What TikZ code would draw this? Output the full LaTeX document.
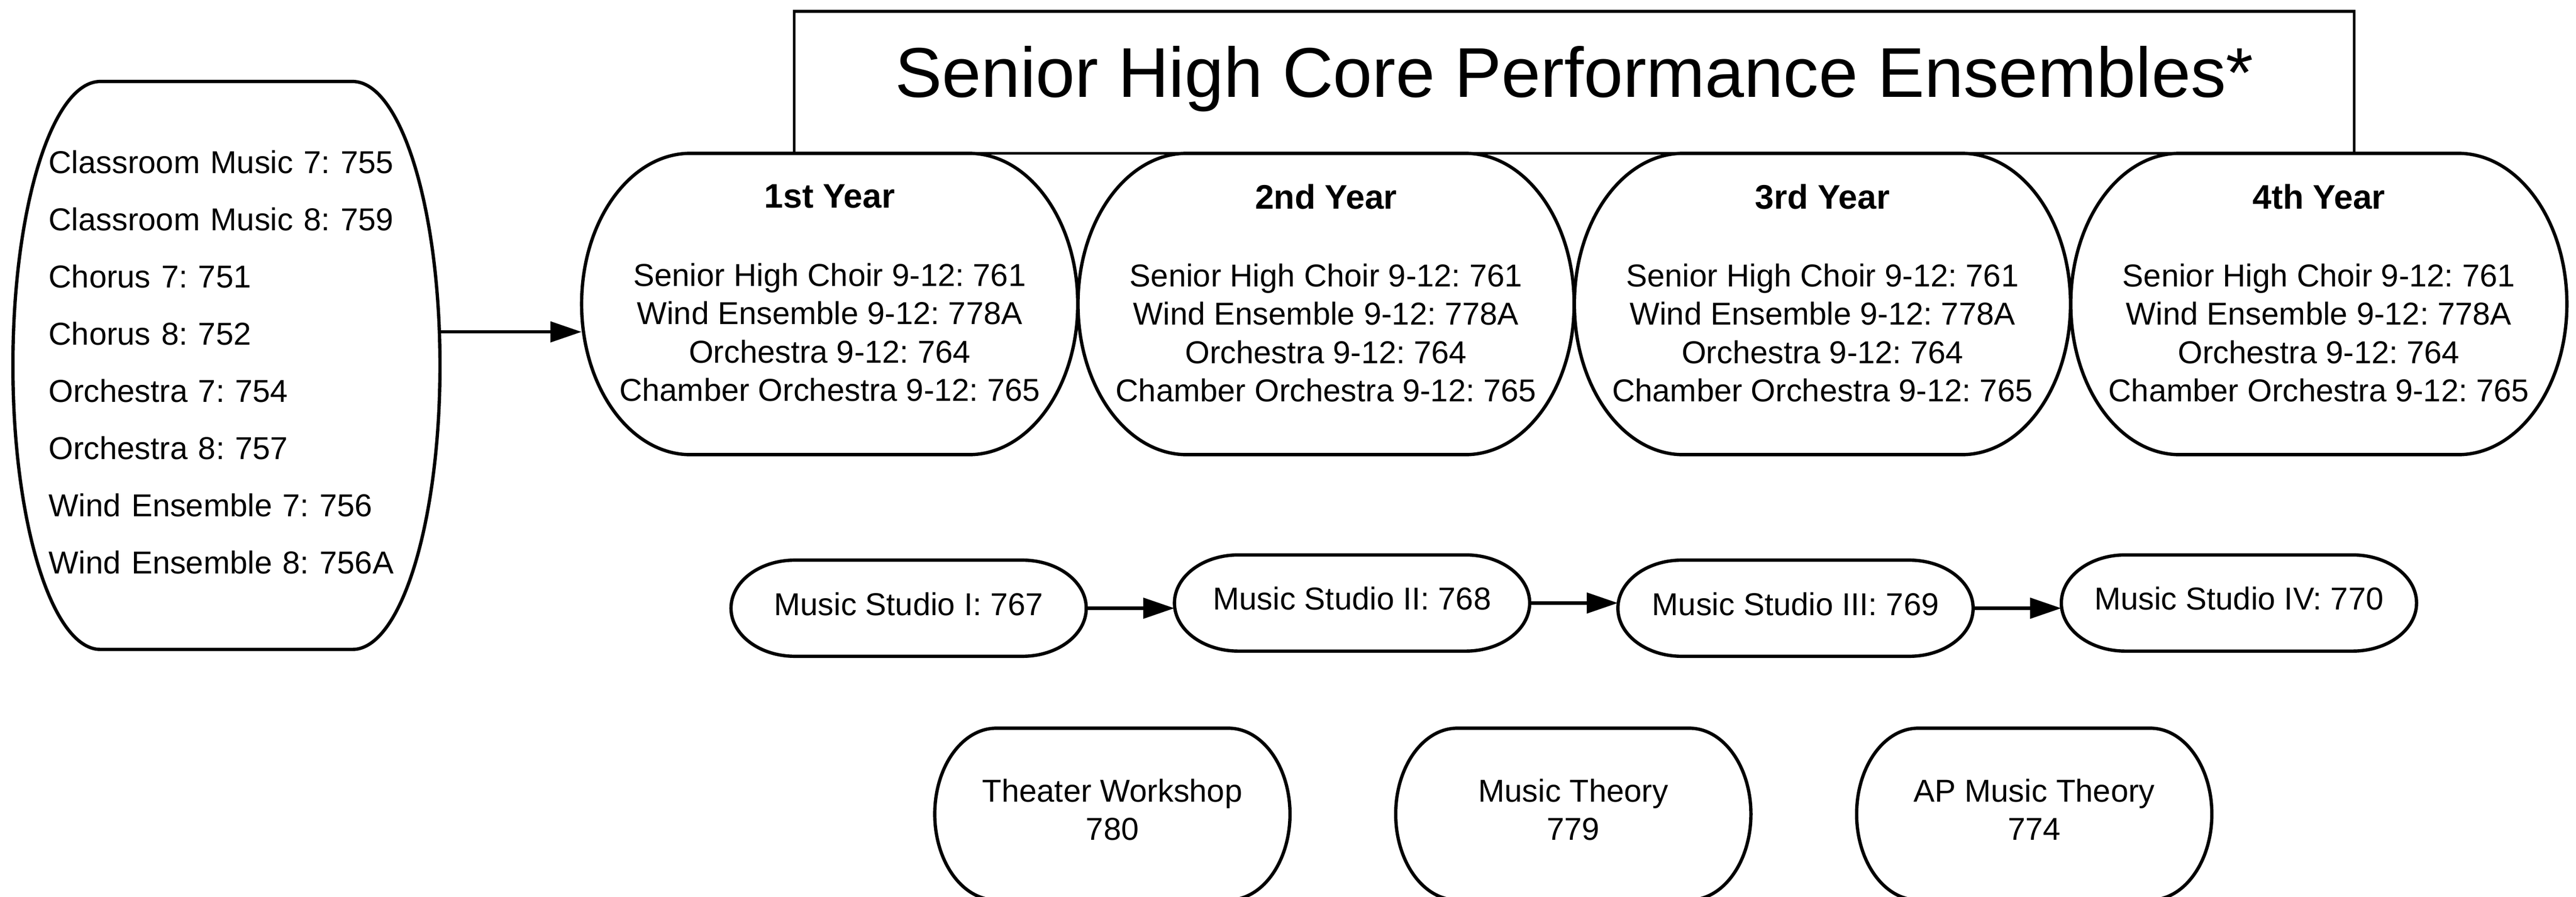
\documentclass[tikz,border=0pt]{standalone}
\usepackage{fontspec}
\setmainfont{Liberation Sans}
\usetikzlibrary{arrows.meta,calc}

% outline with bulging sides round a node
\newcommand{\barrel}[2]{%
  \draw [rim] let \p1=(#1.north west), \p2=(#1.south east), \n1={0.5*(\y1-\y2)} in
    (\x1+#2,\y1) -- (\x2-#2,\y1)
    arc [start angle=90, end angle=-90, x radius=#2, y radius=\n1]
    -- (\x1+#2,\y2)
    arc [start angle=270, end angle=90, x radius=#2, y radius=\n1] -- cycle;}
\newcommand{\ensembles}{Senior High Choir 9-12: 761\\Wind Ensemble 9-12: 778A\\Orchestra 9-12: 764\\Chamber Orchestra 9-12: 765\rule[-0.47cm]{0pt}{0.47cm}}

\tikzset{
  rim/.style={line width=0.07cm},
  boxtext/.style={inner sep=0pt, font=\fontsize{19.06}{23.05}\selectfont},
  titlebox/.style={draw, line width=0.055cm, inner sep=0pt, minimum width=33cm, minimum height=3cm, text depth=0.45cm, font=\fontsize{42.4}{50}\selectfont},
  listbox/.style={boxtext, minimum width=9.02cm, minimum height=12cm, text width=7.52cm, align=left, font=\fontsize{19.06}{34.4}\selectfont},
  yearbox/.style={boxtext, minimum width=10.48cm, minimum height=6.36cm, align=center},
  studiobox/.style={boxtext, minimum width=7.5cm, minimum height=2.02cm, text depth=0.19cm},
  coursebox/.style={boxtext, minimum width=7.5cm, minimum height=3.62cm, align=center},
}

\begin{document}
\frenchspacing
\begin{tikzpicture}[>={Triangle[length=0.66cm,width=0.43cm]}]
\useasboundingbox (0,0) rectangle (54.49,-18.97);

\node [titlebox] (title) at (33.30,-1.74) {Senior High Core Performance Ensembles*};

\node [listbox] (jrhigh) at (4.79,-7.73) {Classroom Music 7: 755\\Classroom Music 8: 759\\Chorus 7: 751\\Chorus 8: 752\\Orchestra 7: 754\\Orchestra 8: 757\\Wind Ensemble 7: 756\\Wind Ensemble 8: 756A\rule[-0.14cm]{0pt}{0.14cm}};
\barrel{jrhigh}{1.85cm}

\foreach \yr [count=\i] in {1st,2nd,3rd,4th}
  {\node [yearbox] (y\i) at ({7.05+10.5*\i},-6.43) {{\fontsize{20.5}{23.05}\selectfont\bfseries \yr\ Year}\\[0.84cm]\ensembles};
   \barrel{y\i}{2.3cm}}

\coordinate (feed) at ([yshift=0.71cm]jrhigh.east);
\draw [rim,->] (feed) -- (feed -| y1.west);

\node [studiobox] (s1) at (19.22,-12.865) {Music Studio I: 767};
\node [studiobox] (s2) at (28.60,-12.755) {Music Studio II: 768};
\node [studiobox] (s3) at (37.98,-12.865) {Music Studio III: 769};
\node [studiobox] (s4) at (47.36,-12.755) {Music Studio IV: 770};
\foreach \i in {1,...,4} {\barrel{s\i}{1.35cm}}
\foreach \i [evaluate=\i as \j using int(\i+1)] in {1,2,3}
  \draw [rim,->] (s\i.east) -- (s\i.east -| s\j.west);

\node [coursebox] (c1) at (23.53,-17.22) {Theater Workshop\\780\rule[-0.2cm]{0pt}{0.2cm}};
\node [coursebox] (c2) at (33.28,-17.22) {Music Theory\\779\rule[-0.2cm]{0pt}{0.2cm}};
\node [coursebox] (c3) at (43.03,-17.22) {AP Music Theory\\774\rule[-0.2cm]{0pt}{0.2cm}};
\foreach \i in {1,2,3} {\barrel{c\i}{1.3cm}}
\end{tikzpicture}
\end{document}
